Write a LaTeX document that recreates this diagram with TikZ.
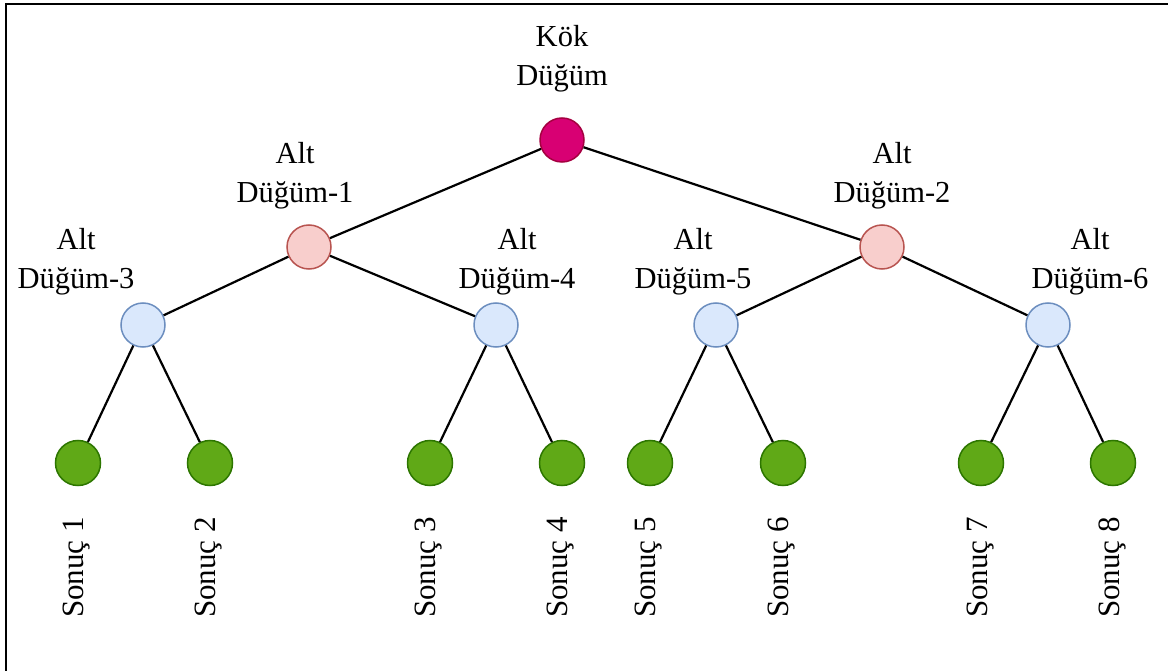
\documentclass[tikz,border=0pt]{standalone}
\usepackage{fontspec}
\setmainfont{Liberation Serif}
\begin{document}
\begin{tikzpicture}[x=1pt,y=-1pt,
  vtx/.style={circle,minimum size=44pt,inner sep=0pt,line width=1.5pt},
  rootvtx/.style={vtx,fill=rootfill,draw=rootline},
  midvtx/.style={vtx,fill=midfill,draw=midline},
  lowvtx/.style={vtx,fill=lowfill,draw=lowline},
  leafvtx/.style={vtx,minimum size=45pt,fill=leaffill,draw=leafline},
  lbl/.style={align=center,inner sep=0pt,anchor=south,font=\fontsize{30.5}{38.5}\selectfont},
  res/.style={inner sep=0pt,anchor=east,rotate=90,font=\fontsize{31}{36}\selectfont},
  link/.style={line width=2.2pt,black}]
\definecolor{rootfill}{HTML}{D80073}
\definecolor{rootline}{HTML}{A50040}
\definecolor{midfill}{HTML}{F8CECC}
\definecolor{midline}{HTML}{B85450}
\definecolor{lowfill}{HTML}{DAE8FC}
\definecolor{lowline}{HTML}{6C8EBF}
\definecolor{leaffill}{HTML}{60A917}
\definecolor{leafline}{HTML}{2D7600}

\useasboundingbox (0,0) rectangle (1168,671);
\clip (0,0) rectangle (1168,671);
% outer frame
\draw[line width=2.5pt] (6,4) rectangle (1200,720);

% tree vertices
\node[rootvtx] (root) at (562,140) {};
\node[midvtx] (a1) at (309,247) {};
\node[midvtx] (a2) at (882,247) {};
\node[lowvtx] (a3) at (143,325) {};
\node[lowvtx] (a4) at (496,325) {};
\node[lowvtx] (a5) at (716,325) {};
\node[lowvtx] (a6) at (1048,325) {};
\node[leafvtx] (l1) at (78,463) {};
\node[leafvtx] (l2) at (210,463) {};
\node[leafvtx] (l3) at (430,463) {};
\node[leafvtx] (l4) at (562,463) {};
\node[leafvtx] (l5) at (650,463) {};
\node[leafvtx] (l6) at (783,463) {};
\node[leafvtx] (l7) at (981,463) {};
\node[leafvtx] (l8) at (1113,463) {};

% connectors
\draw[link] (root) -- (a1);
\draw[link] (root) -- (a2);
\draw[link] (a1) -- (a3);
\draw[link] (a1) -- (a4);
\draw[link] (a2) -- (a5);
\draw[link] (a2) -- (a6);
\draw[link] (a3) -- (l1);
\draw[link] (a3) -- (l2);
\draw[link] (a4) -- (l3);
\draw[link] (a4) -- (l4);
\draw[link] (a5) -- (l5);
\draw[link] (a5) -- (l6);
\draw[link] (a6) -- (l7);
\draw[link] (a6) -- (l8);

% vertex captions
\node[lbl] (troot) at (562,92) {Kök\\Düğüm};
\node[lbl] (t1) at (295,209) {Alt\\Düğüm-1};
\node[lbl] (t2) at (892,209) {Alt\\Düğüm-2};
\node[lbl] (t3) at (76,295) {Alt\\Düğüm-3};
\node[lbl] (t4) at (517,295) {Alt\\Düğüm-4};
\node[lbl] (t5) at (693,295) {Alt\\Düğüm-5};
\node[lbl] (t6) at (1090,295) {Alt\\Düğüm-6};

% leaf results
\node[res] (r1) at (77,517) {Sonuç 1};
\node[res] (r2) at (209,517) {Sonuç 2};
\node[res] (r3) at (429,517) {Sonuç 3};
\node[res] (r4) at (561,517) {Sonuç 4};
\node[res] (r5) at (649,517) {Sonuç 5};
\node[res] (r6) at (782,517) {Sonuç 6};
\node[res] (r7) at (981,517) {Sonuç 7};
\node[res] (r8) at (1112,517) {Sonuç 8};
\end{tikzpicture}
\end{document}
